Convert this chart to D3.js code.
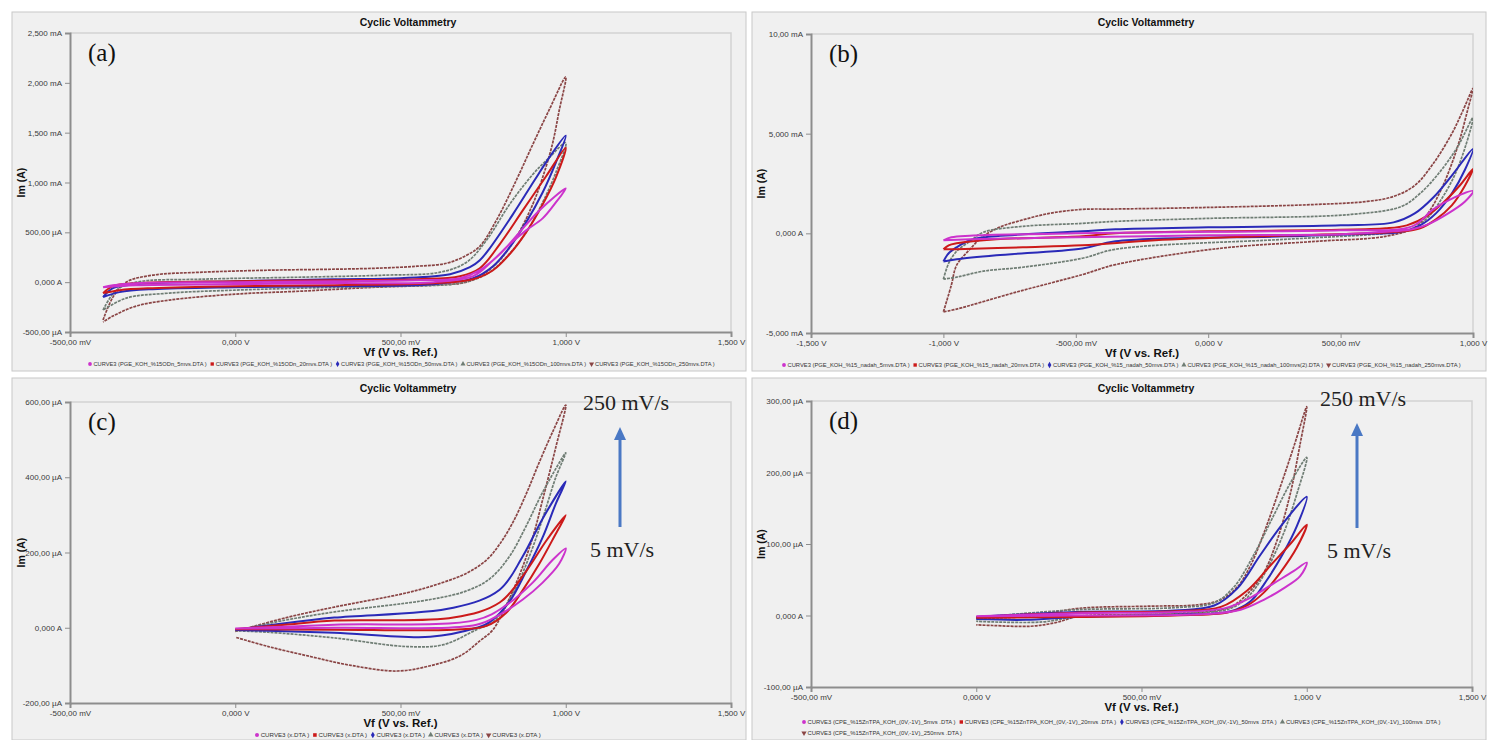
<!DOCTYPE html>
<html>
<head>
<meta charset="utf-8">
<script src="https://cdn.jsdelivr.net/npm/d3@7"></script>
<style>
  body { margin: 0; background: #fff; }
  svg { display: block; }
</style>
</head>
<body>
<script>
// ---------- data ----------
// scan rates, in legend order
var rates = ["5mvs", "20mvs", "50mvs", "100mvs", "250mvs"];

// panel (a): V vs. mA
var a5   = [[-0.40,-0.05],[-0.37,-0.03],[-0.3,-0.01],[0.0,0.0],[0.3,0.01],[0.55,0.02],[0.68,0.04],[0.74,0.12],[0.8,0.28],[0.86,0.5],[0.92,0.72],[1.0,0.94],[0.97,0.8],[0.93,0.64],[0.88,0.52],[0.83,0.38],[0.78,0.22],[0.72,0.06],[0.6,0.0],[0.3,-0.01],[0.0,-0.02],[-0.3,-0.03],[-0.40,-0.05]];
var a20  = [[-0.40,-0.11],[-0.37,-0.04],[-0.3,-0.01],[0.0,0.01],[0.3,0.02],[0.55,0.03],[0.68,0.06],[0.74,0.14],[0.8,0.38],[0.87,0.72],[0.94,1.06],[1.0,1.35],[0.97,1.05],[0.93,0.78],[0.88,0.5],[0.83,0.28],[0.78,0.12],[0.72,0.03],[0.6,-0.01],[0.3,-0.03],[0.0,-0.04],[-0.25,-0.06],[-0.35,-0.08],[-0.40,-0.11]];
var a50  = [[-0.40,-0.15],[-0.37,-0.06],[-0.3,-0.02],[0.0,0.01],[0.3,0.03],[0.5,0.04],[0.65,0.08],[0.71,0.15],[0.74,0.22],[0.77,0.34],[0.84,0.68],[0.905,1.02],[0.95,1.25],[1.0,1.47],[0.97,1.2],[0.93,0.9],[0.88,0.6],[0.83,0.35],[0.78,0.16],[0.72,0.04],[0.6,-0.02],[0.3,-0.04],[0.0,-0.05],[-0.25,-0.07],[-0.35,-0.1],[-0.40,-0.15]];
var a100 = [[-0.40,-0.28],[-0.36,-0.08],[-0.3,0.0],[-0.1,0.03],[0.2,0.05],[0.45,0.07],[0.62,0.1],[0.7,0.2],[0.76,0.42],[0.83,0.78],[0.9,1.08],[0.95,1.25],[1.0,1.4],[0.97,1.1],[0.93,0.8],[0.88,0.5],[0.82,0.25],[0.76,0.08],[0.68,-0.01],[0.5,-0.04],[0.2,-0.06],[0.0,-0.08],[-0.2,-0.11],[-0.33,-0.16],[-0.40,-0.28]];
var a250 = [[-0.40,-0.38],[-0.37,-0.15],[-0.33,0.0],[-0.25,0.07],[-0.1,0.10],[0.1,0.12],[0.3,0.13],[0.43,0.14],[0.55,0.16],[0.64,0.19],[0.70,0.27],[0.74,0.36],[0.79,0.62],[0.85,1.02],[0.90,1.38],[0.95,1.73],[1.0,2.06],[0.98,1.72],[0.96,1.39],[0.93,1.05],[0.90,0.78],[0.85,0.45],[0.80,0.22],[0.75,0.08],[0.70,0.0],[0.60,-0.03],[0.43,-0.05],[0.2,-0.09],[0.0,-0.12],[-0.2,-0.18],[-0.3,-0.24],[-0.37,-0.34],[-0.40,-0.40]];

// panel (b): V vs. mA
var b5   = [[-1.0,-0.35],[-0.97,-0.2],[-0.9,-0.12],[-0.5,0.0],[0.0,0.08],[0.5,0.15],[0.77,0.35],[0.85,1.2],[0.93,1.8],[1.0,2.12],[0.97,1.6],[0.9,0.95],[0.83,0.45],[0.77,0.2],[0.7,0.1],[0.5,-0.05],[0.0,-0.1],[-0.5,-0.2],[-0.9,-0.3],[-1.0,-0.35]];
var b20  = [[-1.0,-0.8],[-0.98,-0.6],[-0.95,-0.5],[-0.8,-0.3],[-0.475,-0.15],[-0.35,0.0],[0.0,0.1],[0.67,0.25],[0.75,0.4],[0.83,0.9],[0.9,1.7],[0.95,2.4],[1.0,3.23],[0.97,2.4],[0.92,1.4],[0.86,0.7],[0.8,0.25],[0.74,0.1],[0.6,0.0],[0.2,-0.15],[-0.2,-0.35],[-0.475,-0.6],[-0.7,-0.7],[-0.95,-0.8],[-1.0,-0.8]];
var b50  = [[-1.0,-1.41],[-0.98,-1.0],[-0.95,-0.7],[-0.9,-0.35],[-0.85,-0.2],[-0.475,0.1],[-0.35,0.2],[0.0,0.3],[0.5,0.4],[0.7,0.55],[0.78,1.0],[0.85,1.8],[0.92,2.9],[1.0,4.24],[0.97,3.2],[0.92,2.0],[0.86,1.0],[0.8,0.4],[0.72,0.05],[0.67,0.0],[0.29,-0.15],[-0.35,-0.4],[-0.475,-0.76],[-0.8,-1.1],[-0.95,-1.3],[-1.0,-1.41]];
var b100 = [[-1.0,-2.3],[-0.98,-1.5],[-0.95,-0.9],[-0.9,-0.4],[-0.85,0.05],[-0.7,0.35],[-0.475,0.5],[-0.35,0.6],[0.0,0.75],[0.54,0.95],[0.73,1.35],[0.8,2.0],[0.87,3.0],[0.94,4.3],[1.0,5.8],[0.97,4.3],[0.93,2.9],[0.88,1.7],[0.83,0.8],[0.77,0.2],[0.67,0.0],[0.29,-0.3],[-0.35,-0.8],[-0.475,-1.25],[-0.7,-1.7],[-0.85,-1.9],[-0.95,-2.2],[-1.0,-2.3]];
var b250 = [[-1.0,-3.94],[-0.97,-2.6],[-0.95,-1.6],[-0.9,-0.8],[-0.85,-0.15],[-0.78,0.35],[-0.72,0.6],[-0.6,1.0],[-0.475,1.2],[-0.35,1.22],[0.0,1.3],[0.41,1.45],[0.6,1.6],[0.7,1.85],[0.78,2.4],[0.85,3.5],[0.92,5.0],[0.96,6.1],[1.0,7.27],[0.98,6.2],[0.95,4.7],[0.92,3.5],[0.88,2.2],[0.83,1.0],[0.78,0.3],[0.67,-0.15],[0.41,-0.4],[0.04,-0.76],[-0.35,-1.57],[-0.475,-2.07],[-0.72,-2.93],[-0.95,-3.8],[-1.0,-3.94]];

// panel (c): V vs. µA
var c5   = [[0,-2],[0.3,8],[0.73,21],[0.82,60],[0.9,120],[0.96,180],[1.0,211],[0.98,170],[0.93,120],[0.87,75],[0.8,35],[0.73,8],[0.3,0],[0,-2]];
var c20  = [[0,-4],[0.15,8],[0.3,19],[0.66,27],[0.8,67],[0.88,150],[0.94,230],[1.0,299],[0.97,250],[0.92,170],[0.87,100],[0.82,40],[0.76,5],[0.66,-5],[0.3,-5],[0,-4]];
var c50  = [[0,-6],[0.15,12],[0.3,27],[0.66,53],[0.8,101],[0.87,190],[0.93,290],[1.0,389],[0.97,330],[0.93,240],[0.88,150],[0.83,70],[0.77,15],[0.73,0],[0.59,-24],[0.3,-13],[0.1,-8],[0,-6]];
var c100 = [[0,-8],[0.15,20],[0.3,42],[0.59,75],[0.7,98],[0.77,130],[0.83,190],[0.88,270],[0.93,360],[1.0,465],[0.97,400],[0.93,290],[0.89,190],[0.84,90],[0.78,15],[0.73,-5],[0.63,-45],[0.52,-50],[0.3,-27],[0.1,-12],[0,-8]];
var c250 = [[0,-10],[0.155,27],[0.3,55],[0.52,93],[0.62,118],[0.7,145],[0.76,180],[0.8,222],[0.84,280],[0.88,355],[0.92,440],[0.96,520],[1.0,592],[0.97,480],[0.93,340],[0.9,240],[0.86,140],[0.82,60],[0.78,-5],[0.74,-35],[0.68,-75],[0.59,-101],[0.49,-115],[0.35,-100],[0.23,-77],[0.1,-50],[0,-25]];

// panel (d): V vs. µA
var d5   = [[0,-1],[0.3,3],[0.6,5],[0.75,10],[0.83,25],[0.9,45],[0.96,62],[1.0,74],[0.98,55],[0.93,38],[0.87,22],[0.8,8],[0.7,2],[0.3,0],[0,-1]];
var d20  = [[0,-2],[0.3,4],[0.6,6],[0.74,12],[0.82,35],[0.89,70],[0.95,100],[1.0,127],[0.97,95],[0.92,60],[0.87,32],[0.82,14],[0.76,4],[0.6,0],[0.3,-2],[0,-3]];
var d50  = [[0,-2],[0.3,5],[0.6,7],[0.72,14],[0.79,38],[0.86,85],[0.93,130],[1.0,166],[0.97,125],[0.93,88],[0.88,50],[0.83,20],[0.77,6],[0.6,1],[0.3,-2],[0.15,-6],[0,-5]];
var d100 = [[0,-3],[0.3,8],[0.6,11],[0.72,18],[0.78,40],[0.84,85],[0.9,140],[0.95,185],[1.0,221],[0.97,170],[0.93,115],[0.88,65],[0.83,30],[0.77,10],[0.6,3],[0.3,-2],[0.2,-9],[0.05,-9],[0,-8]];
var d250 = [[0,-4],[0.165,-1],[0.31,10],[0.52,13],[0.67,15],[0.74,22],[0.79,40],[0.83,70],[0.87,115],[0.92,180],[0.96,235],[1.0,292],[0.98,240],[0.95,170],[0.91,105],[0.87,60],[0.82,30],[0.77,12],[0.67,4],[0.45,1],[0.31,-1],[0.24,-10],[0.165,-15],[0.05,-14],[0,-13]];

// tick values and labels
var xTicksA = [-0.5, 0, 0.5, 1, 1.5];
var xLabelsA = ["-500,00 mV", "0,000 V", "500,00 mV", "1,000 V", "1,500 V"];
var xTicksB = [-1.5, -1, -0.5, 0, 0.5, 1];
var xLabelsB = ["-1,500 V", "-1,000 V", "-500,00 mV", "0,000 V", "500,00 mV", "1,000 V"];
var yTicksA = [-0.5, 0, 0.5, 1, 1.5, 2, 2.5];
var yLabelsA = ["-500,00 µA", "0,000 A", "500,00 µA", "1,000 mA", "1,500 mA", "2,000 mA", "2,500 mA"];
var yTicksB = [-5, 0, 5, 10];
var yLabelsB = ["-5,000 mA", "0,000 A", "5,000 mA", "10,00 mA"];
var yTicksC = [-200, 0, 200, 400, 600];
var yLabelsC = ["-200,00 µA", "0,000 A", "200,00 µA", "400,00 µA", "600,00 µA"];
var yTicksD = [-100, 0, 100, 200, 300];
var yLabelsD = ["-100,00 µA", "0,000 A", "100,00 µA", "200,00 µA", "300,00 µA"];

// legend file names
var legendA = rates.map(function(r){ return "CURVE3 (PGE_KOH_%15ODn_" + r + ".DTA )"; });
var legendB = ["5mvs", "20mvs", "50mvs", "100mvs(2)", "250mvs"].map(function(r){ return "CURVE3 (PGE_KOH_%15_nadah_" + r + ".DTA )"; });
var legendC = rates.map(function(){ return "CURVE3 (x.DTA )"; });
var legendD = rates.map(function(r){ return "CURVE3 (CPE_%15ZnTPA_KOH_(0V,-1V)_" + r + " .DTA )"; });

// ---------- styles ----------
var colors = ["#cc33cc", "#cc1a1a", "#2a2ab8", "#6f7d74", "#8a4545"];
var symbols = [d3.symbolCircle, d3.symbolSquare, d3.symbolDiamond, d3.symbolTriangle, d3.symbolTriangle];

var svg = d3.select("body").append("svg")
            .attr("width", 1488)
            .attr("height", 740)
            .style("font-family", "'Liberation Sans', Arial, sans-serif");

var line = d3.line().curve(d3.curveCatmullRom.alpha(0.5));

function drawPanel(p, idx){
  var g = svg.append("g");

  // panel frame
  g.append("rect")
    .attr("x", p.box[0]).attr("y", p.box[1])
    .attr("width", p.box[2]).attr("height", p.box[3])
    .attr("fill", "#f0f0f0").attr("stroke", "#c8c8c8");

  var x = d3.scaleLinear().domain(p.xDomain).range([p.left, p.right]);
  var y = d3.scaleLinear().domain(p.yDomain).range([p.bottom, p.top]);

  // plot border (top + right)
  g.append("path")
    .attr("d", "M" + p.left + "," + p.top + "H" + p.right + "V" + p.bottom)
    .attr("fill", "none").attr("stroke", "#d2d2d2").attr("stroke-width", 1.5);

  var clipId = "clip" + idx;
  g.append("clipPath").attr("id", clipId).append("rect")
    .attr("x", p.left).attr("y", p.top)
    .attr("width", p.right - p.left).attr("height", p.bottom - p.top);

  // curves: 250 first, 5 last (on top)
  var curves = g.append("g").attr("clip-path", "url(#" + clipId + ")");
  for (var i = p.series.length - 1; i >= 0; i--) {
    curves.append("path")
      .attr("d", line(p.series[i].map(function(d){ return [x(d[0]), y(d[1])]; })))
      .attr("fill", "none")
      .attr("stroke", colors[i])
      .attr("stroke-width", i < 3 ? 2 : 1.7)
      .attr("stroke-dasharray", i >= 3 ? "3,1" : null)
      .attr("stroke-linejoin", "round");
  }

  // axes
  var minorX = d3.range(p.xDomain[0], p.xDomain[1] + 1e-9, 0.1);
  var minorY = d3.range(p.yDomain[0], p.yDomain[1] + 1e-9, p.yMinor);

  var gx = g.append("g").attr("transform", "translate(0," + p.bottom + ")");
  gx.call(d3.axisBottom(x).tickValues(minorX).tickSize(3).tickFormat(""));
  gx.call(d3.axisBottom(x).tickValues(p.xTicks).tickSize(5)
            .tickFormat(function(d, i){ return p.xLabels[i]; }));

  var gy = g.append("g").attr("transform", "translate(" + p.left + ",0)");
  gy.call(d3.axisLeft(y).tickValues(minorY).tickSize(3).tickFormat(""));
  gy.call(d3.axisLeft(y).tickValues(p.yTicks).tickSize(5)
            .tickFormat(function(d, i){ return p.yLabels[i]; }));

  [gx, gy].forEach(function(a){
    a.selectAll(".domain").attr("stroke", "#8d8d8d").attr("stroke-width", 2);
    a.selectAll(".tick line").attr("stroke", "#8d8d8d");
    a.selectAll(".tick text").attr("fill", "#3a3a3a")
      .style("font-size", "8px");
  });
  gx.selectAll(".tick text").attr("dy", "0.6em");

  // title
  g.append("text")
    .attr("x", p.titleX).attr("y", p.box[1] + 14)
    .attr("text-anchor", "middle")
    .style("font-size", "10.5px").style("font-weight", "bold")
    .attr("fill", "#111")
    .text("Cyclic Voltammetry");

  // axis titles
  g.append("text")
    .attr("x", (p.left + p.right) / 2).attr("y", p.bottom + 24)
    .attr("text-anchor", "middle")
    .style("font-size", "11.5px").style("font-weight", "bold")
    .attr("fill", "#111")
    .text("Vf (V vs. Ref.)");

  g.append("text")
    .attr("transform", "translate(" + (p.box[0] + 13) + "," + ((p.top + p.bottom) / 2) + ") rotate(-90)")
    .attr("text-anchor", "middle")
    .style("font-size", "10.5px").style("font-weight", "bold")
    .attr("fill", "#111")
    .text("Im (A)");

  // panel letter
  g.append("text")
    .attr("x", p.left + 18).attr("y", p.top + 28)
    .style("font-family", "'Liberation Serif', 'Times New Roman', serif")
    .style("font-size", "25px")
    .attr("fill", "#111")
    .text(p.letter);

  // legend
  var lg = g.append("g").style("font-size", "10px");
  var items = lg.selectAll("g").data(p.legend).enter().append("g");
  items.append("text").attr("x", 6).attr("dy", "0.35em").attr("fill", "#333").text(function(d){ return d; });
  var widths = [];
  items.each(function(){ widths.push(this.getBBox().width + 6); });
  var gap = 9;
  var perRow = p.legendPerRow || p.legend.length;
  var natural = d3.sum(widths.slice(0, perRow)) + gap * (perRow - 1);
  var k = p.legendWidth / natural;
  var cx = 0, row = 0;
  items.each(function(d, i){
    if (i > 0 && i % perRow === 0) { cx = 0; row++; }
    d3.select(this).attr("transform", "translate(" + cx + "," + (row * 11 / k) + ")");
    cx += widths[i] + gap;
  });
  items.append("path")
    .attr("d", function(d, i){ return d3.symbol().type(symbols[i]).size(34)(); })
    .attr("transform", function(d, i){ return i === 4 ? "rotate(180)" : null; })
    .attr("fill", function(d, i){ return colors[i]; });
  lg.attr("transform", "translate(" + p.legendX + "," + p.legendY + ") scale(" + k + ")");

  // scan-rate annotation
  if (p.arrowX) {
    var ann = g.append("g")
      .style("font-family", "'Liberation Serif', 'Times New Roman', serif")
      .style("font-size", "22px").attr("fill", "#222");
    ann.append("text").attr("x", p.arrowX + 6).attr("y", p.arrowTop - 17)
      .attr("text-anchor", "middle").text("250 mV/s");
    ann.append("text").attr("x", p.arrowX + 2).attr("y", p.arrowBottom + 30)
      .attr("text-anchor", "middle").text("5 mV/s");
    ann.append("line")
      .attr("x1", p.arrowX).attr("x2", p.arrowX)
      .attr("y1", p.arrowBottom).attr("y2", p.arrowTop + 12)
      .attr("stroke", "#4a78c4").attr("stroke-width", 3);
    ann.append("path")
      .attr("d", "M" + (p.arrowX - 6) + "," + (p.arrowTop + 13) + "L" + p.arrowX + "," + p.arrowTop + "L" + (p.arrowX + 6) + "," + (p.arrowTop + 13) + "Z")
      .attr("fill", "#4a78c4");
  }
}

var panels = [
  { letter: "(a)", box: [12, 12, 734, 359], left: 70, right: 731, top: 33, bottom: 332,
    xDomain: [-0.5, 1.5], yDomain: [-0.5, 2.5], yMinor: 0.1,
    xTicks: xTicksA, xLabels: xLabelsA, yTicks: yTicksA, yLabels: yLabelsA,
    series: [a5, a20, a50, a100, a250], titleX: 408,
    legend: legendA, legendX: 90, legendY: 364, legendWidth: 625 },
  { letter: "(b)", box: [752, 12, 734, 359], left: 811, right: 1473, top: 34, bottom: 333,
    xDomain: [-1.5, 1.0], yDomain: [-5, 10], yMinor: 1,
    xTicks: xTicksB, xLabels: xLabelsB, yTicks: yTicksB, yLabels: yLabelsB,
    series: [b5, b20, b50, b100, b250], titleX: 1146,
    legend: legendB, legendX: 784, legendY: 365, legendWidth: 677 },
  { letter: "(c)", box: [12, 378, 734, 362], left: 70, right: 731, top: 402, bottom: 703,
    xDomain: [-0.5, 1.5], yDomain: [-200, 600], yMinor: 50,
    xTicks: xTicksA, xLabels: xLabelsA, yTicks: yTicksC, yLabels: yLabelsC,
    series: [c5, c20, c50, c100, c250], titleX: 408,
    legend: legendC, legendX: 257, legendY: 735, legendWidth: 284,
    arrowX: 620, arrowTop: 427, arrowBottom: 527 },
  { letter: "(d)", box: [752, 378, 734, 362], left: 811, right: 1472, top: 401, bottom: 687,
    xDomain: [-0.5, 1.5], yDomain: [-100, 300], yMinor: 25,
    xTicks: xTicksA, xLabels: xLabelsA, yTicks: yTicksD, yLabels: yLabelsD,
    series: [d5, d20, d50, d100, d250], titleX: 1146,
    legend: legendD, legendX: 804, legendY: 722, legendWidth: 637, legendPerRow: 4,
    arrowX: 1357, arrowTop: 423, arrowBottom: 528 }
];

panels.forEach(drawPanel);
</script>
</body>
</html>
